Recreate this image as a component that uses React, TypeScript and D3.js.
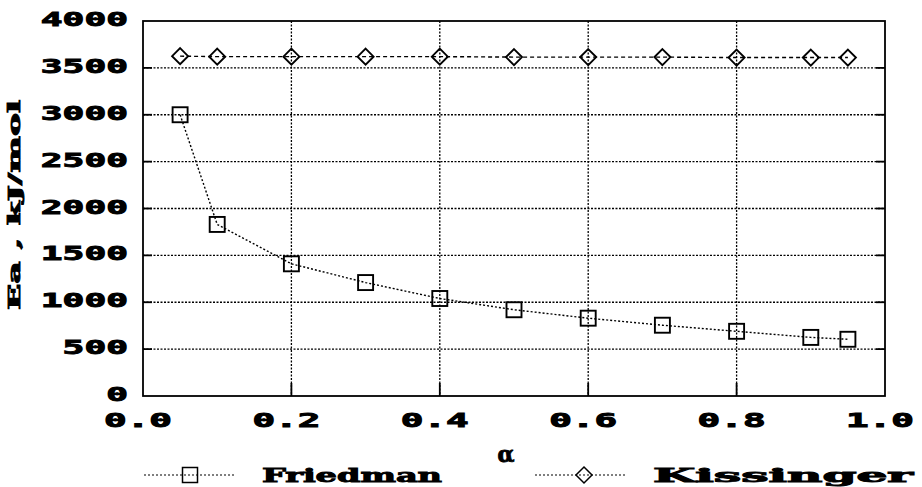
import React from "react";
import * as d3 from "d3";

const alpha = [0.05, 0.1, 0.2, 0.3, 0.4, 0.5, 0.6, 0.7, 0.8, 0.9, 0.95];
const friedman = [3000, 1830, 1410, 1210, 1040, 920, 830, 755, 690, 625, 605];
const kissinger = [3625, 3620, 3620, 3620, 3620, 3615, 3615, 3615, 3610, 3610, 3610];
const xTicks = [0, 0.2, 0.4, 0.6, 0.8, 1.0];
const yTicks = [0, 500, 1000, 1500, 2000, 2500, 3000, 3500, 4000];

const W = 922;
const H = 487;
const left = 143;
const right = 885;
const top = 21;
const bottom = 396;

const mono = "'DejaVu Sans Mono', monospace";
const serif = "'DejaVu Serif', serif";

const App = () => {
	const x = d3.scaleLinear().domain([0, 1]).range([left, right]);
	const y = d3.scaleLinear().domain([0, 4000]).range([bottom, top]);

	const line = d3
		.line<number>()
		.x((d, i) => x(alpha[i]))
		.y((d) => y(d));

	const sq = 15;
	const dm = 8;
	const diamond = (cx, cy) =>
		`M${cx},${cy - dm}L${cx + dm},${cy}L${cx},${cy + dm}L${cx - dm},${cy}Z`;

	const legY = 475;
	const heavy = { stroke: "#000", strokeWidth: 0.9 };

	return (
		<svg width={W} height={H} style={{ position: "absolute", left: 0, top: 0, background: "#fff" }}>
			{/* grid */}
			{yTicks.slice(1, -1).map((t) => (
				<line key={"gy" + t} x1={left} x2={right} y1={y(t)} y2={y(t)}
					stroke="#000" strokeWidth={1.3} strokeDasharray="2,1.5" />
			))}
			{xTicks.slice(1, -1).map((t) => (
				<line key={"gx" + t} x1={x(t)} x2={x(t)} y1={top} y2={bottom}
					stroke="#000" strokeWidth={1.3} strokeDasharray="2,1.5" />
			))}

			{/* ticks */}
			{yTicks.slice(1, -1).map((t) => (
				<g key={"ty" + t}>
					<line x1={left} x2={left + 9} y1={y(t)} y2={y(t)} stroke="#000" strokeWidth={1.8} />
					<line x1={right - 9} x2={right} y1={y(t)} y2={y(t)} stroke="#000" strokeWidth={1.8} />
				</g>
			))}
			{xTicks.slice(1, -1).map((t) => (
				<line key={"tx" + t} x1={x(t)} x2={x(t)} y1={bottom} y2={bottom - 13} stroke="#000" strokeWidth={1.8} />
			))}

			<rect x={left} y={top} width={right - left} height={bottom - top}
				fill="none" stroke="#000" strokeWidth={1.8} />

			{/* series */}
			<path d={line(friedman) || ""} fill="none" stroke="#000" strokeWidth={1.4} strokeDasharray="2,2" />
			<path d={line(kissinger) || ""} fill="none" stroke="#000" strokeWidth={1.4} strokeDasharray="4,3" />
			{friedman.map((v, i) => (
				<rect key={"f" + i} x={x(alpha[i]) - sq / 2} y={y(v) - sq / 2} width={sq} height={sq}
					fill="none" stroke="#000" strokeWidth={1.9} />
			))}
			{kissinger.map((v, i) => (
				<path key={"k" + i} d={diamond(x(alpha[i]), y(v))} fill="none" stroke="#000" strokeWidth={1.9} />
			))}

			{/* y tick labels */}
			{yTicks.map((t) => {
				const s = String(t);
				return (
					<text key={"ly" + t} x={128} y={y(t) + 5} textAnchor="end"
						fontFamily={mono} fontWeight="bold" fontSize={19} {...heavy}
						textLength={s.length * 21.8} lengthAdjust="spacingAndGlyphs">{s}</text>
				);
			})}

			{/* x tick labels */}
			{xTicks.map((t) => (
				<text key={"lx" + t} x={x(t) - 5} y={427} textAnchor="middle"
					fontFamily={mono} fontWeight="bold" fontSize={19} {...heavy}
					textLength={68} lengthAdjust="spacingAndGlyphs">{t.toFixed(1)}</text>
			))}

			{/* axis titles */}
			<text x={506} y={462} textAnchor="middle" fontFamily={serif} fontWeight="bold" fontSize={22} {...heavy}>α</text>
			<text transform="translate(20,205) rotate(-90)" textAnchor="middle"
				fontFamily={serif} fontWeight="bold" fontSize={17} {...heavy}
				textLength={210} lengthAdjust="spacingAndGlyphs">Ea , kJ/mol</text>

			{/* legend */}
			<line x1={144} x2={236} y1={legY} y2={legY} stroke="#000" strokeWidth={1.2} strokeDasharray="2,2" />
			<rect x={190 - sq / 2} y={legY - sq / 2} width={sq} height={sq} fill="none" stroke="#000" strokeWidth={1.5} />
			<text x={262} y={482} fontFamily={serif} fontWeight="bold" fontSize={18} {...heavy}
				textLength={180} lengthAdjust="spacingAndGlyphs">Friedman</text>

			<line x1={535} x2={627} y1={legY} y2={legY} stroke="#000" strokeWidth={1.2} strokeDasharray="2,2" />
			<path d={diamond(584, legY)} fill="none" stroke="#000" strokeWidth={1.5} />
			<text x={653} y={482} fontFamily={serif} fontWeight="bold" fontSize={18} {...heavy}
				textLength={260} lengthAdjust="spacingAndGlyphs">Kissinger</text>
		</svg>
	);
};

export default App;
